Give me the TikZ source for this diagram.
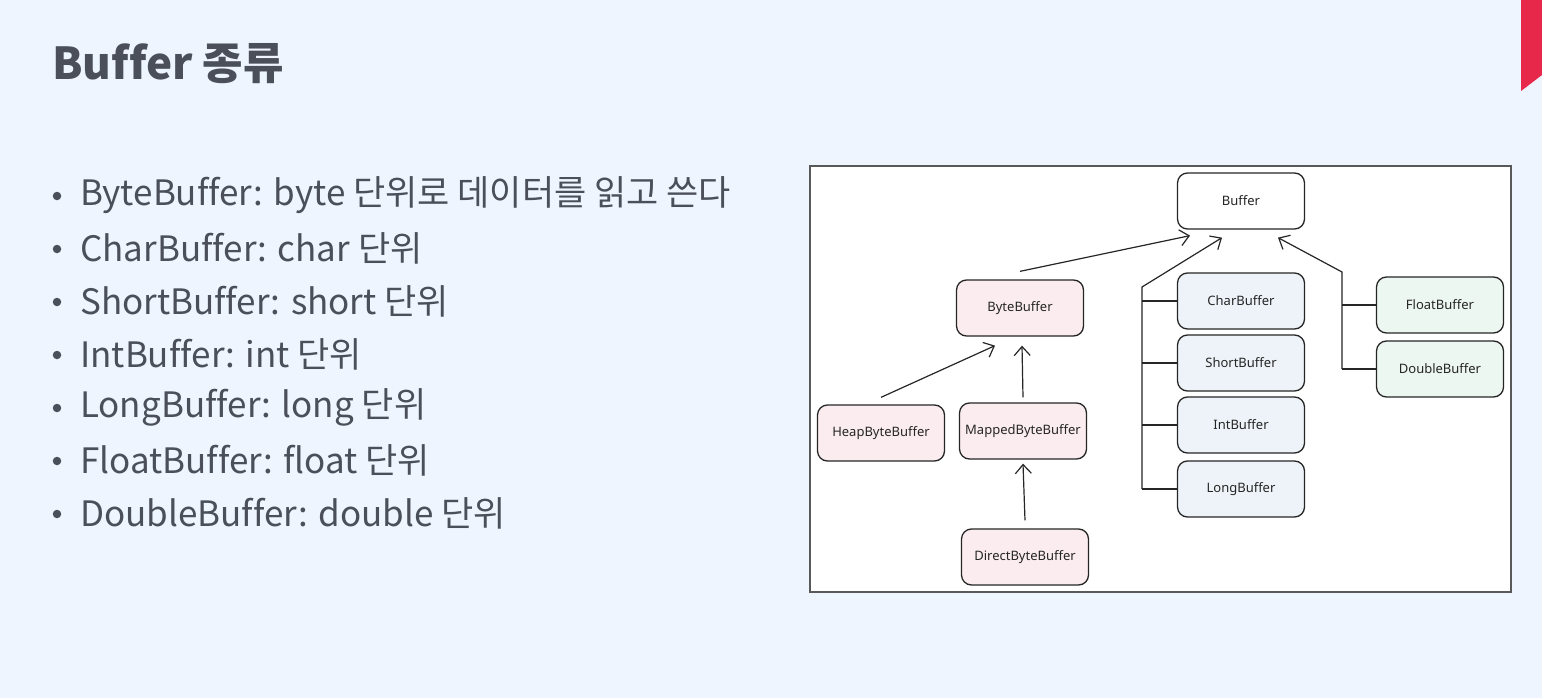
\documentclass[tikz,border=0pt]{standalone}
\usepackage{fontspec}
\usetikzlibrary{arrows.meta,positioning,calc}
\newfontfamily\krfont[Ligatures=NoCommon]{Noto Sans CJK KR}
\newfontfamily\boxfont[Ligatures=NoCommon]{Noto Sans}
\definecolor{slidebg}{HTML}{EFF5FE}
\definecolor{slidetext}{HTML}{4A4F59}
\definecolor{tabred}{HTML}{E8284B}
\definecolor{bytepink}{HTML}{FBEDEF}
\definecolor{viewblue}{HTML}{EDF3F8}
\definecolor{floatgreen}{HTML}{EDF7F1}
\definecolor{inkdark}{HTML}{262626}

\begin{document}
\begin{tikzpicture}[
  x=1pt, y=-1pt,
  cls/.style={
    draw=inkdark, line width=1.3pt, rounded corners=10pt,
    font=\boxfont\fontsize{13}{15}\selectfont, text=inkdark,
    minimum width=127pt, minimum height=56pt, inner sep=0pt
  },
  bytecls/.style={cls, fill=bytepink},
  viewcls/.style={cls, fill=viewblue},
  fpcls/.style={cls, fill=floatgreen},
  item/.style={anchor=west, font=\krfont\fontsize{35}{40}\selectfont, text=slidetext, inner sep=0pt},
  dot/.style={circle, fill=slidetext, inner sep=0pt, minimum size=8.5pt},
  arrow/.style={-{Straight Barb[length=9pt, width=16pt]}, inkdark, line width=1.2pt},
  bus/.style={inkdark, line width=1.2pt},
]

  % Slide background
  \fill[slidebg] (0,0) rectangle (1542,698);
  \useasboundingbox (0,0) rectangle (1542,698);
  \fill[tabred] (1521,0) -- (1542,0) -- (1542,75) -- (1521,91) -- cycle;

  % Title
  \node[anchor=west, font=\krfont\bfseries\fontsize{44}{48}\selectfont, text=slidetext, inner sep=0pt]
    (title) at (52,64) {Buffer 종류};

  % Bullet list
  \foreach \txt [count=\i] in {%
      ByteBuffer: byte 단위로 데이터를 읽고 쓴다,
      CharBuffer: char 단위,
      ShortBuffer: short 단위,
      IntBuffer: int 단위,
      LongBuffer: long 단위,
      FloatBuffer: float 단위,
      DoubleBuffer: double 단위} {
    \node[dot] (dot\i) at (57, {143+\i*53}) {};
    \node[item] (item\i) at (80, {142+\i*53}) {\txt};
  }

  % Diagram frame
  \draw[fill=white, draw=black!65, line width=1.8pt] (810,166) rectangle (1511,592);

  % Class boxes
  \node[cls] (buffer) at (1241,201) {Buffer};
  \node[bytecls] (byte) at (1020,308) {ByteBuffer};
  \node[bytecls] (heap) at (881,433) {HeapByteBuffer};
  \node[bytecls] (mapped) at (1023,431) {MappedByteBuffer};
  \node[bytecls] (direct) at (1025,557) {DirectByteBuffer};
  \node[viewcls] (char) at (1241,301) {CharBuffer};
  \node[viewcls] (short) at (1241,363) {ShortBuffer};
  \node[viewcls] (int) at (1241,425) {IntBuffer};
  \node[viewcls] (long) at (1241,489) {LongBuffer};
  \node[fpcls] (float) at (1440,305) {FloatBuffer};
  \node[fpcls] (double) at (1440,369) {DoubleBuffer};

  % Bus corners
  \coordinate (lbus) at (1142,287);
  \coordinate (rbus) at (1342,272);

  % ByteBuffer and its subclasses
  \draw[arrow] ([yshift=8pt]byte.north) -- ([xshift=-51pt, yshift=-6pt]buffer.south);
  \draw[arrow] ([yshift=7pt]heap.north) -- ([xshift=-25pt, yshift=-9pt]byte.south);
  \draw[arrow] ([yshift=5pt]mapped.north) -- ([xshift=2pt, yshift=-9pt]byte.south);
  \draw[arrow] ([yshift=8pt]direct.north) -- ([yshift=-4pt]mapped.south);

  % Char, Short, Int, Long
  \draw[arrow] (lbus |- long.west) -- (lbus) -- ([xshift=-19pt, yshift=-8pt]buffer.south);
  \foreach \n in {char, short, int, long}
    \draw[bus] (lbus |- \n.west) -- (\n.west);

  % Float, Double
  \draw[arrow] (rbus |- double.west) -- (rbus) -- ([xshift=37pt, yshift=-8pt]buffer.south);
  \foreach \n in {float, double}
    \draw[bus] (rbus |- \n.west) -- (\n.west);

\end{tikzpicture}
\end{document}
